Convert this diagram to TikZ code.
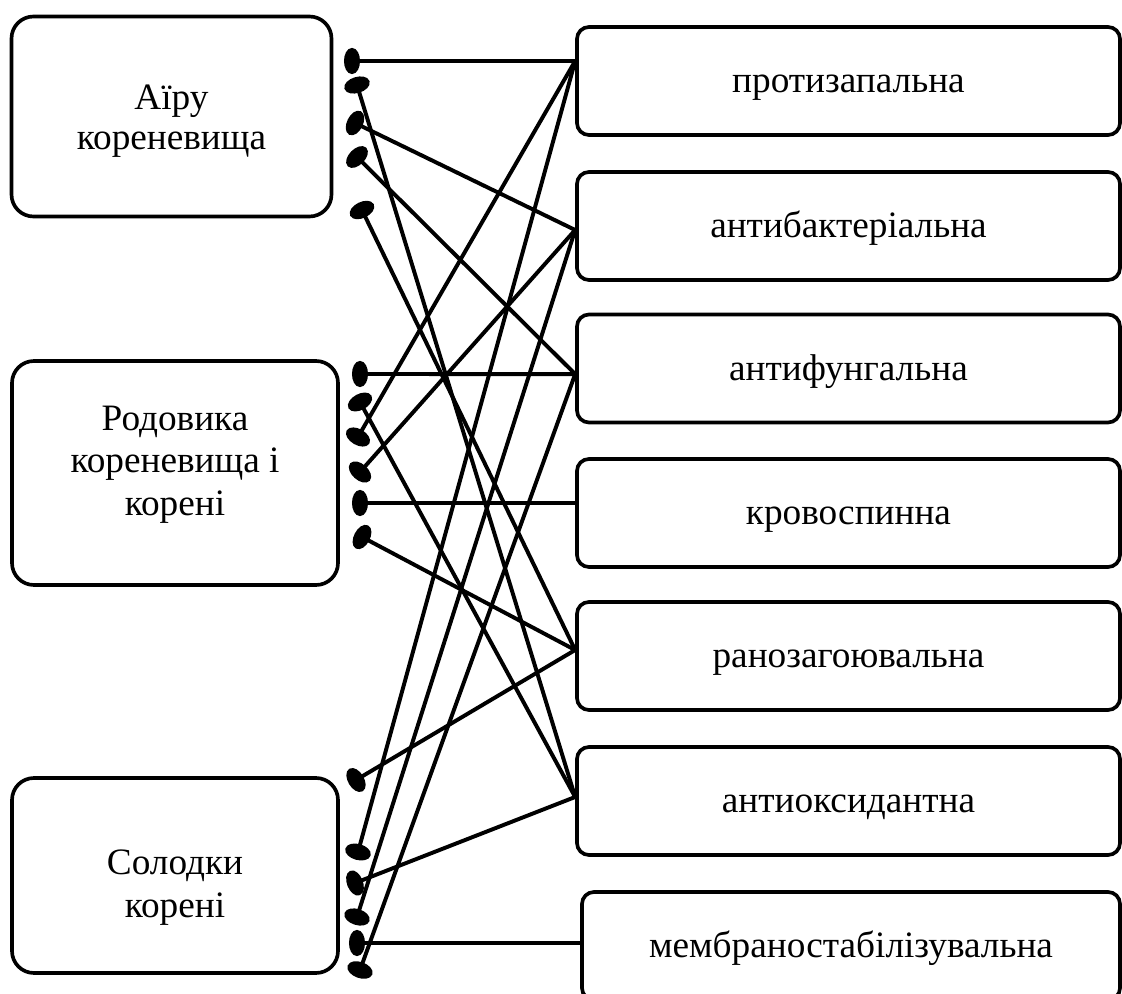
\documentclass[tikz,border=0pt]{standalone}
\usepackage{fontspec}
\setmainfont{Liberation Serif}
\usetikzlibrary{arrows.meta}

\begin{document}
\begin{tikzpicture}[
    x=0.25mm, y=-0.25mm,
    source/.style={
        rectangle,
        draw,
        rounded corners=5.5mm,
        line width=2.6pt,
        align=center,
        text depth=2mm,
        font=\fontsize{26.5}{30}\selectfont
    },
    effect/.style={
        rectangle,
        draw,
        rounded corners=3mm,
        line width=2.6pt,
        minimum width=135.75mm,
        minimum height=27mm,
        text height=23pt,
        text depth=6pt,
        font=\fontsize{26.5}{30}\selectfont
    },
    link/.style={
        {Ellipse[length=4mm, width=6.5mm]}-,
        line width=2.8pt,
        shorten <=-2mm
    }
]
    \useasboundingbox (0,0) rectangle (1122,994);
    \clip (0,0) rectangle (1122,994);

    % Raw materials
    \node[source, minimum width=80mm, minimum height=50mm, font=\fontsize{26.5}{28.5}\selectfont,
        text height=18.75mm] (airu) at (171.5,116.5) {Аїру\\кореневища};
    \node[source, minimum width=81.5mm, minimum height=56mm,
        text height=23mm] (rodovyk) at (175,473) {Родовика\\кореневища і\\корені};
    \node[source, minimum width=81.5mm, minimum height=48.75mm,
        text height=22.75mm] (solodka) at (175,875.5) {Солодки\\корені};

    % Kinds of action
    \node[effect] (protyzap) at (848.5,81) {протизапальна};
    \node[effect] (antybakt) at (848.5,226) {антибактеріальна};
    \node[effect] (antyfung) at (848.5,368.5) {антифунгальна};
    \node[effect] (krovosp) at (848.5,513) {кровоспинна};
    \node[effect] (ranozag) at (848.5,656) {ранозагоювальна};
    \node[effect] (antyoks) at (848.5,801) {антиоксидантна};
    \node[effect, minimum width=134.5mm] (membran) at (851,946) {мембраностабілізувальна};

    % Inputs on the left sides
    \coordinate (protyzap-in) at ([yshift=5mm]protyzap.west);
    \coordinate (antybakt-in) at ([yshift=-1mm]antybakt.west);
    \coordinate (antyfung-in) at ([yshift=-1.4mm]antyfung.west);
    \coordinate (krovosp-in) at ([yshift=2.5mm]krovosp.west);
    \coordinate (ranozag-in) at ([yshift=1.5mm]ranozag.west);
    \coordinate (antyoks-in) at ([yshift=1mm]antyoks.west);
    \coordinate (membran-in) at ([yshift=0.75mm]membran.west);

    % Dots
    \coordinate (airu-1) at (352,61);
    \coordinate (airu-2) at (357,85);
    \coordinate (airu-3) at (355,123);
    \coordinate (airu-4) at (357,157);
    \coordinate (airu-5) at (362,210);
    \coordinate (rodovyk-1) at (360,374);
    \coordinate (rodovyk-2) at (360,402);
    \coordinate (rodovyk-3) at (358,437);
    \coordinate (rodovyk-4) at (360,472);
    \coordinate (rodovyk-5) at (360,503);
    \coordinate (rodovyk-6) at (362,537);
    \coordinate (solodka-1) at (356,780);
    \coordinate (solodka-2) at (358,852);
    \coordinate (solodka-3) at (355,883);
    \coordinate (solodka-4) at (357,917);
    \coordinate (solodka-5) at (357,943);
    \coordinate (solodka-6) at (360,970);

    % Links
    \draw[link] (airu-1) -- (protyzap-in);
    \draw[link] (airu-2) -- (antyoks-in);
    \draw[link] (airu-3) -- (antybakt-in);
    \draw[link] (airu-4) -- (antyfung-in);
    \draw[link] (airu-5) -- (ranozag-in);
    \draw[link] (rodovyk-1) -- (antyfung-in);
    \draw[link] (rodovyk-2) -- (antyoks-in);
    \draw[link] (rodovyk-3) -- (protyzap-in);
    \draw[link] (rodovyk-4) -- (antybakt-in);
    \draw[link] (rodovyk-5) -- (krovosp-in);
    \draw[link] (rodovyk-6) -- (ranozag-in);
    \draw[link] (solodka-1) -- (ranozag-in);
    \draw[link] (solodka-2) -- (protyzap-in);
    \draw[link] (solodka-3) -- (antyoks-in);
    \draw[link] (solodka-4) -- (antybakt-in);
    \draw[link] (solodka-5) -- (membran-in);
    \draw[link] (solodka-6) -- (antyfung-in);
\end{tikzpicture}
\end{document}
